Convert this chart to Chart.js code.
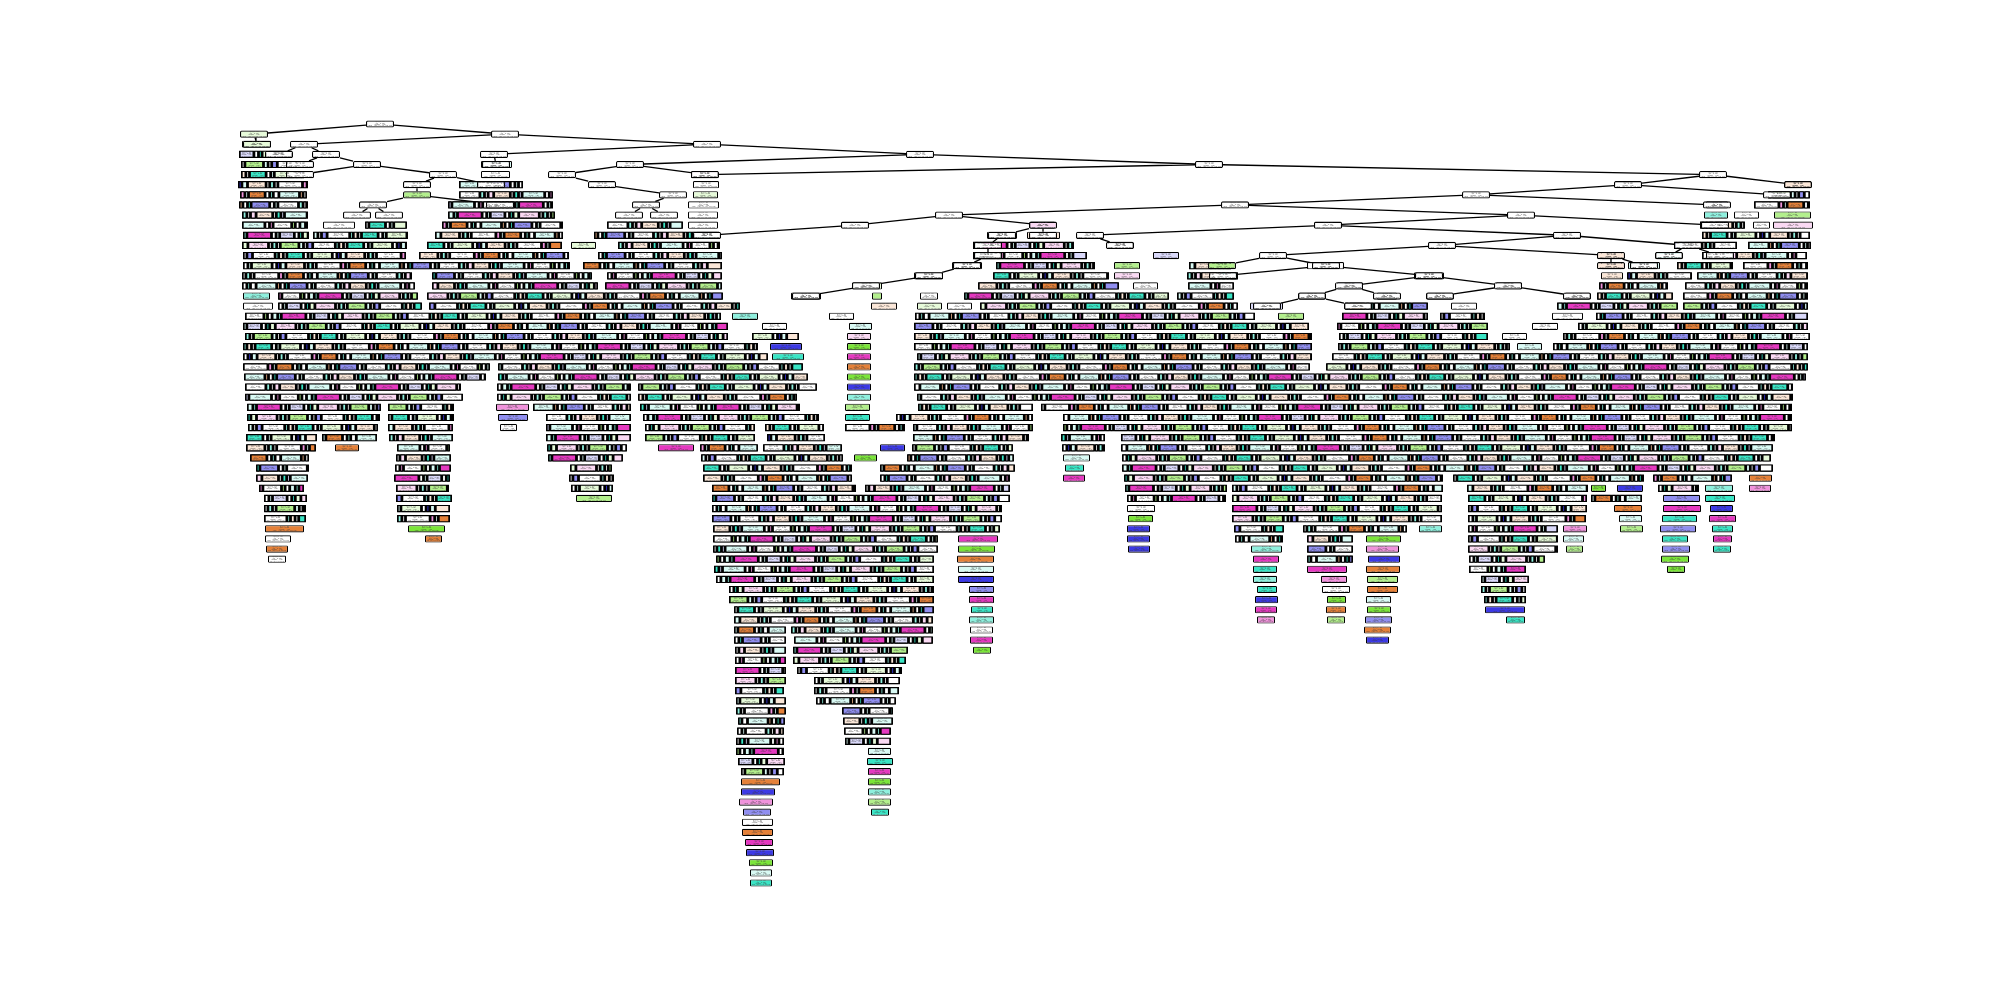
<!DOCTYPE html>
<html>
<head>
<meta charset="utf-8">
<title>Decision tree</title>
<script src="https://cdn.jsdelivr.net/npm/chart.js@4.4.0/dist/chart.umd.min.js"></script>
<style>
  html, body { margin: 0; padding: 0; background: #fff; }
  #wrap { width: 2000px; height: 1000px; position: relative; }
</style>
</head>
<body>
<div id="wrap"><canvas id="tree"></canvas></div>
<script>
// Upper part of the tree: split nodes that stand on their own (x in px, depth = tree level)
const nodeX = [380, 254, 505, 304, 707, 326, 367, 443, 417, 417,
  373, 357, 389, 494, 920, 496, 630, 1209, 562, 705,
  602, 673, 646, 664, 629, 1713, 1628, 1798, 1476, 1777,
  1235, 1717, 1521, 949, 1328, 1715, 1090, 1567, 1442, 1688,
  1273, 1611, 1222, 1326, 1223, 1429, 1349, 1508, 1312, 1387,
  1440, 1577, 1267, 1358, 855, 1043, 1120, 707, 1002, 1043,
  1611, 1644, 1669, 1720, 988, 988, 967, 929, 866, 806,
  257, 279, 300, 300, 491, 500];
const nodeDepth = [0, 1, 1, 2, 2, 3, 4, 5, 6, 7,
  8, 9, 9, 3, 3, 4, 4, 4, 5, 5,
  6, 7, 8, 9, 9, 5, 6, 6, 7, 7,
  8, 8, 9, 9, 10, 10, 11, 11, 12, 12,
  13, 13, 14, 14, 15, 15, 16, 16, 17, 17,
  17, 17, 18, 18, 10, 10, 12, 11, 11, 11,
  14, 14, 13, 13, 12, 13, 14, 15, 16, 17,
  2, 3, 4, 5, 6, 8];
// majority class / purity of each node (w = mixed, pale letters = weak, capitals = pure)
const nodeClass = ('wgwwwwwwwh' + 'wwwwwwwwww' + 'wwwwwwwoww' + 'wwwwwwwwww' +
  'wohwwwwwww' + 'wwwwwpwwww' + 'owwwwwwwww' + 'gwwwww').split('');
// parent -> child links
const edgeFrom = [0, 0, 2, 2, 3, 5, 6, 7, 8, 9, 10, 10, 4, 4, 13, 14, 14, 16, 16, 17,
  18, 20, 21, 22, 22, 17, 25, 25, 26, 26, 28, 28, 30, 30, 32, 32, 34, 34, 37, 37,
  38, 38, 40, 40, 43, 43, 45, 45, 46, 46, 47, 47, 48, 48, 33, 33, 36, 54, 55, 55,
  41, 41, 39, 39, 58, 64, 65, 66, 67, 68, 1, 3, 5, 6, 7, 9];
const edgeTo = [1, 2, 3, 4, 5, 6, 7, 8, 9, 10, 11, 12, 13, 14, 15, 16, 17, 18, 19, 19,
  20, 21, 22, 23, 24, 25, 26, 27, 28, 29, 30, 31, 32, 33, 34, 35, 36, 37, 38, 39,
  40, 41, 42, 43, 44, 45, 46, 47, 48, 49, 50, 51, 52, 53, 54, 55, 56, 57, 58, 59,
  60, 61, 62, 63, 64, 65, 66, 67, 68, 69, 70, 71, 72, 73, 74, 75];

// Dense part: for each depth (array index) the horizontal spans [x0, x1] packed with nodes
const levelSpans = [
  [],
  [],
  [[242, 271]],
  [[239, 292]],
  [[241, 297], [481, 512]],
  [[241, 304], [481, 510], [691, 718]],
  [[238, 308], [459, 523], [693, 719], [1785, 1811]],
  [[240, 307], [459, 553], [693, 718], [1768, 1810]],
  [[239, 308], [448, 553], [688, 719], [1706, 1728], [1754, 1810]],
  [[242, 308], [448, 555], [688, 718], [1704, 1728], [1734, 1759], [1774, 1811]],
  [[242, 308], [323, 355], [365, 407], [442, 563], [607, 683], [688, 718], [1030, 1055], [1700, 1745], [1753, 1770], [1773, 1813]],
  [[243, 309], [313, 408], [435, 563], [594, 719], [987, 1017], [1027, 1060], [1702, 1810]],
  [[242, 407], [427, 562], [571, 596], [618, 720], [973, 1074], [1108, 1133], [1674, 1737], [1748, 1811]],
  [[243, 406], [419, 569], [598, 722], [973, 1087], [1153, 1179], [1601, 1622], [1656, 1682], [1702, 1807]],
  [[243, 570], [583, 722], [952, 982], [996, 1095], [1114, 1140], [1189, 1231], [1307, 1344], [1601, 1622], [1628, 1660], [1677, 1733], [1743, 1808]],
  [[242, 412], [432, 592], [607, 722], [914, 943], [993, 1109], [1114, 1140], [1187, 1238], [1414, 1444], [1601, 1623], [1627, 1692], [1697, 1808]],
  [[242, 415], [432, 598], [605, 722], [852, 882], [978, 1119], [1133, 1158], [1188, 1234], [1337, 1363], [1496, 1522], [1599, 1668], [1685, 1808]],
  [[243, 270], [278, 418], [427, 723], [791, 821], [872, 882], [920, 938], [964, 1169], [1177, 1234], [1299, 1325], [1377, 1397], [1427, 1453], [1565, 1590], [1597, 1673], [1683, 1808]],
  [[243, 273], [278, 422], [429, 740], [871, 897], [917, 942], [947, 972], [980, 1238], [1250, 1283], [1345, 1428], [1451, 1477], [1557, 1678], [1683, 1808]],
  [[245, 721], [732, 758], [829, 854], [915, 1255], [1278, 1304], [1342, 1428], [1440, 1485], [1552, 1583], [1596, 1808]],
  [[243, 728], [762, 787], [849, 872], [914, 1309], [1337, 1488], [1532, 1558], [1578, 1808]],
  [[245, 728], [752, 799], [847, 871], [914, 1312], [1339, 1488], [1502, 1527], [1563, 1810]],
  [[243, 758], [770, 802], [847, 871], [914, 1312], [1338, 1510], [1517, 1542], [1553, 1808]],
  [[243, 768], [772, 804], [847, 871], [917, 1312], [1332, 1808]],
  [[243, 490], [498, 803], [847, 871], [914, 1310], [1326, 1808]],
  [[244, 486], [498, 808], [847, 871], [914, 1806]],
  [[245, 461], [497, 631], [638, 817], [847, 871], [914, 1793]],
  [[245, 463], [497, 631], [638, 797], [847, 871], [917, 1793]],
  [[247, 381], [388, 454], [496, 529], [533, 631], [640, 800], [845, 870], [918, 1033], [1041, 1792]],
  [[247, 380], [388, 454], [498, 528], [546, 631], [643, 819], [845, 870], [896, 1033], [1063, 1792]],
  [[248, 378], [388, 453], [500, 517], [546, 631], [645, 755], [765, 824], [845, 905], [913, 1033], [1063, 1792]],
  [[246, 317], [322, 377], [389, 453], [546, 631], [645, 755], [767, 825], [913, 1029], [1061, 1105], [1121, 1775]],
  [[246, 316], [335, 359], [397, 450], [547, 627], [658, 694], [700, 758], [763, 842], [880, 905], [912, 1013], [1062, 1105], [1121, 1773]],
  [[250, 309], [396, 451], [548, 623], [701, 843], [854, 877], [907, 1014], [1063, 1090], [1122, 1771]],
  [[256, 309], [395, 451], [570, 612], [703, 852], [880, 1015], [1065, 1084], [1122, 1773]],
  [[256, 308], [394, 450], [569, 614], [703, 852], [880, 1010], [1063, 1085], [1124, 1443], [1453, 1644], [1653, 1732], [1749, 1772]],
  [[259, 304], [396, 449], [571, 613], [712, 856], [865, 1010], [1125, 1227], [1232, 1443], [1467, 1588], [1591, 1606], [1617, 1643], [1658, 1699], [1705, 1733], [1749, 1771]],
  [[264, 307], [396, 452], [576, 612], [712, 1010], [1127, 1226], [1232, 1442], [1468, 1587], [1591, 1642], [1663, 1700], [1705, 1735]],
  [[264, 306], [397, 450], [712, 1002], [1127, 1155], [1232, 1442], [1468, 1587], [1614, 1642], [1663, 1701], [1710, 1733]],
  [[264, 306], [397, 450], [712, 1002], [1128, 1153], [1232, 1442], [1468, 1586], [1619, 1642], [1662, 1697], [1709, 1736]],
  [[265, 304], [408, 445], [713, 1000], [1127, 1150], [1234, 1284], [1303, 1407], [1419, 1442], [1468, 1558], [1563, 1587], [1620, 1643], [1660, 1696], [1712, 1733]],
  [[265, 291], [425, 442], [713, 938], [958, 998], [1127, 1150], [1235, 1283], [1307, 1353], [1366, 1401], [1468, 1558], [1563, 1584], [1662, 1688], [1713, 1732]],
  [[266, 288], [713, 938], [958, 995], [1128, 1150], [1251, 1282], [1307, 1353], [1366, 1399], [1468, 1558], [1566, 1583], [1662, 1690], [1713, 1731]],
  [[268, 286], [716, 934], [957, 994], [1253, 1279], [1307, 1353], [1368, 1400], [1469, 1545], [1661, 1689]],
  [[714, 934], [958, 994], [1253, 1277], [1307, 1347], [1366, 1400], [1469, 1526], [1667, 1685]],
  [[716, 934], [958, 994], [1253, 1277], [1321, 1347], [1367, 1398], [1481, 1529]],
  [[729, 934], [969, 994], [1257, 1277], [1322, 1350], [1367, 1398], [1481, 1526]],
  [[729, 934], [969, 994], [1255, 1278], [1327, 1346], [1366, 1391], [1484, 1526]],
  [[734, 934], [971, 993], [1255, 1277], [1326, 1346], [1367, 1391], [1485, 1525]],
  [[734, 933], [969, 994], [1257, 1275], [1327, 1345], [1365, 1392], [1506, 1525]],
  [[734, 786], [791, 933], [970, 993], [1364, 1391]],
  [[734, 786], [794, 933], [970, 993], [1366, 1389]],
  [[735, 786], [793, 908], [973, 991]],
  [[735, 786], [793, 906]],
  [[735, 786], [797, 902]],
  [[735, 786], [814, 900]],
  [[735, 784], [814, 899]],
  [[736, 786], [816, 896]],
  [[736, 786], [842, 893]],
  [[738, 785], [843, 893]],
  [[737, 784], [844, 891]],
  [[736, 784], [845, 891]],
  [[736, 784], [868, 891]],
  [[738, 785], [867, 893]],
  [[741, 784], [868, 891]],
  [[741, 780], [868, 891]],
  [[741, 775], [868, 891]],
  [[739, 773], [868, 891]],
  [[743, 771], [871, 889]],
  [[742, 773]],
  [[742, 773]],
  [[745, 773]],
  [[746, 774]],
  [[749, 773]],
  [[750, 772]],
  [[750, 772]]
];

// ---- styling ----
const ROW_PX = 10.12;   // vertical distance between tree levels
const ROOT_PX = 124;    // pixel row of the root
const NODE_HALF = 14;   // half width of a standalone node box

const classColors = {
  w: '#ffffff', o: '#fbe7d8', m: '#f2b68c', O: '#e58139',
  g: '#e6fad9', h: '#b3ef8d', G: '#7be539',
  c: '#d9faf4', k: '#8ff0de', C: '#39e5c5',
  b: '#dad9fa', n: '#908ef0', B: '#3c39e5',
  p: '#fad9f3', q: '#f093dc', P: '#e539c0'
};
// width / colour rhythm used to pack nodes inside a dense span
const fillPattern = [
  [4, 'w'], [3, 'c'], [20, 'w'], [4, 'k'], [3, 'w'], [5, 'p'], [16, 'o'], [3, 'w'], [4, 'C'], [3, 'b'],
  [22, 'c'], [4, 'w'], [3, 'q'], [18, 'w'], [3, 'h'], [4, 'w'], [5, 'c'], [3, 'k'], [24, 'P'], [4, 'w'],
  [3, 'c'], [14, 'b'], [4, 'w'], [3, 'C'], [5, 'g'], [20, 'p'], [3, 'w'], [4, 'k'], [3, 'w'], [18, 'h'],
  [4, 'c'], [3, 'w'], [5, 'n'], [22, 'w'], [3, 'k'], [4, 'o'], [3, 'w'], [16, 'C'], [4, 'w'], [3, 'c'],
  [20, 'g'], [4, 'w'], [3, 'B'], [5, 'c'], [18, 'o'], [3, 'w'], [4, 'k'], [3, 'w'], [24, 'w'], [4, 'q'],
  [3, 'c'], [16, 'O'], [4, 'w'], [3, 'k'], [5, 'w'], [20, 'c'], [3, 'm'], [4, 'w'], [3, 'C'], [18, 'n']
];
const paleSeq = 'wcwpwogwbwkwhw';
const leafSeq = 'CPOGBkqhnCwOPBGc';
const nodeText = ['X[12] <= 0.5', 'gini = 0.798', 'samples = 2304', 'value = [462, 471, 455, 458, 458]'];

// standalone nodes and their links
const nodeBars = nodeX.map((x, i) => ({ x: [x - NODE_HALF, x + NODE_HALF], y: nodeDepth[i] }));
const nodeFill = nodeClass.map(c => classColors[c]);

const halfH = 3.5 / ROW_PX;
const edgePts = [];
edgeFrom.forEach((a, i) => {
  const b = edgeTo[i];
  const dx = nodeX[b] - nodeX[a];
  const dy = nodeDepth[b] - nodeDepth[a];
  const t = Math.min(dx ? NODE_HALF / Math.abs(dx) : Infinity, halfH / Math.abs(dy));
  edgePts.push({ x: nodeX[a] + dx * t, y: nodeDepth[a] + dy * t });
  edgePts.push({ x: nodeX[b] - dx * t, y: nodeDepth[b] - dy * t });
  edgePts.push({ x: null, y: null });
});

// dense spans -> dark band + packed node boxes
const spanBase = [];
const spanBoxes = [], spanFill = [];
let singleCount = 0;
levelSpans.forEach((spans, d) => {
  spans.forEach(([a, b], s) => {
    if (b - a <= 40) {
      const seq = d < 22 ? paleSeq : leafSeq;
      spanBoxes.push({ x: [a, b], y: d });
      spanFill.push(classColors[seq[singleCount++ % seq.length]]);
      return;
    }
    spanBase.push({ x: [a, b], y: d });
    let k = (d * 7 + s * 13) % fillPattern.length;
    let p = a + 0.6;
    while (p < b - 2.5) {
      const [w, c] = fillPattern[k++ % fillPattern.length];
      const e = Math.min(p + w, b - 0.6);
      spanBoxes.push({ x: [p, e], y: d });
      spanFill.push(classColors[c]);
      p = e + 0.6;
    }
  });
});

// tiny node labels, as plot_tree prints them
const treeText = {
  id: 'treeText',
  afterDatasetsDraw(chart) {
    const ctx = chart.ctx;
    ctx.save();
    ctx.fillStyle = '#3a3a3a';
    ctx.textAlign = 'center';
    ctx.textBaseline = 'middle';
    ctx.font = '1.4px "DejaVu Sans"';
    chart.data.datasets.forEach((ds, di) => {
      if (!ds.labelled) return;
      chart.getDatasetMeta(di).data.forEach(el => {
        const { x, y, base } = el.getProps(['x', 'y', 'base'], true);
        const w = Math.abs(x - base);
        if (w < 14) return;
        const cx = (x + base) / 2;
        nodeText.forEach((t, j) => ctx.fillText(t, cx, y - 2.1 + j * 1.4, w - 4));
      });
    });
    ctx.restore();
  }
};

const yMin = -ROOT_PX / ROW_PX;
const yMax = yMin + 1000 / ROW_PX;

new Chart(document.getElementById('tree'), {
  type: 'bar',
  data: {
    datasets: [
      {
        type: 'line',
        indexAxis: 'x',
        data: edgePts,
        borderColor: '#000000',
        borderWidth: 1.3,
        pointRadius: 0,
        spanGaps: false,
        order: 3
      },
      {
        indexAxis: 'y',
        data: spanBase,
        backgroundColor: '#000000',
        borderWidth: 0,
        barThickness: 7.2,
        grouped: false,
        inflateAmount: 0,
        order: 2
      },
      {
        indexAxis: 'y',
        data: spanBoxes,
        backgroundColor: spanFill,
        borderColor: '#000000',
        borderWidth: 1.1,
        borderSkipped: false,
        borderRadius: 1,
        barThickness: 7.2,
        grouped: false,
        inflateAmount: 0,
        labelled: true,
        order: 1
      },
      {
        indexAxis: 'y',
        data: nodeBars,
        backgroundColor: nodeFill,
        borderColor: '#000000',
        borderWidth: 1.3,
        borderSkipped: false,
        borderRadius: 1.5,
        barThickness: 7.2,
        grouped: false,
        inflateAmount: 0,
        labelled: true,
        order: 0
      }
    ]
  },
  options: {
    responsive: true,
    maintainAspectRatio: false,
    animation: false,
    events: [],
    layout: { padding: 0 },
    plugins: {
      legend: { display: false },
      tooltip: { enabled: false }
    },
    scales: {
      x: { type: 'linear', min: 0, max: 2000, offset: false, display: false },
      y: { type: 'linear', min: yMin, max: yMax, reverse: true, offset: false, display: false }
    }
  },
  plugins: [treeText]
});
</script>
</body>
</html>
